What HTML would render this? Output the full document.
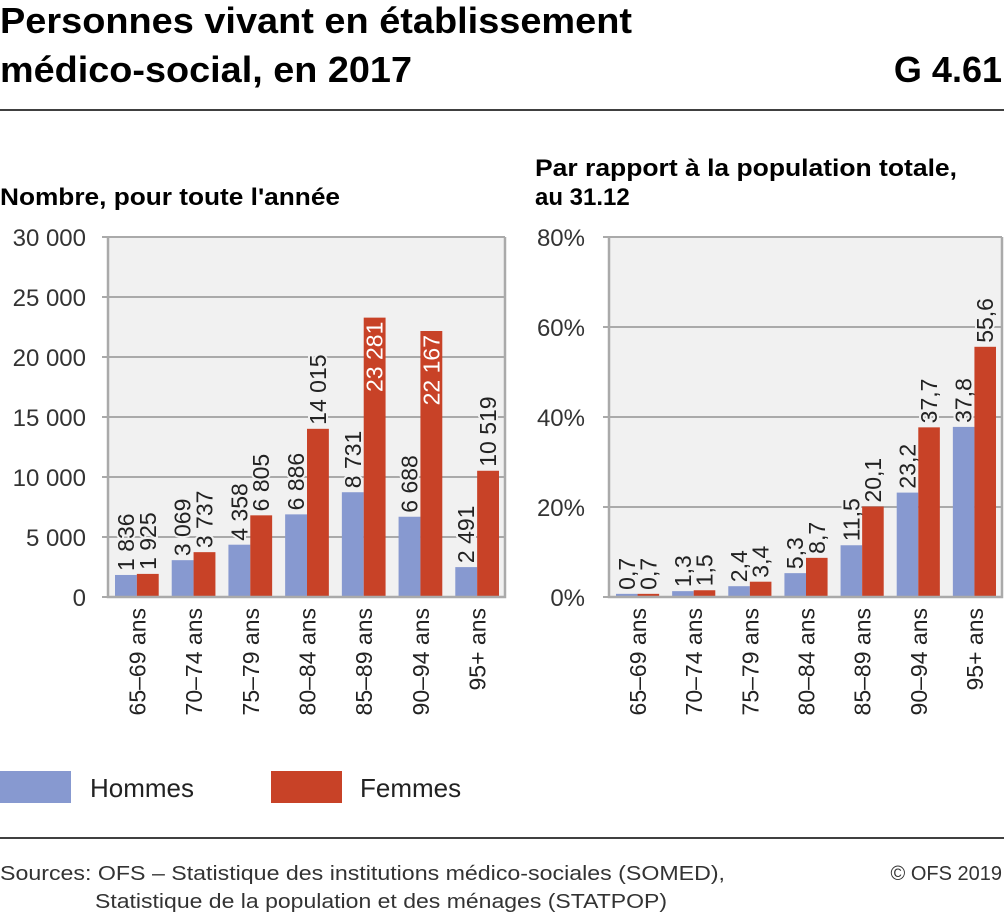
<!DOCTYPE html>
<html><head><meta charset="utf-8"><style>
body{margin:0;background:#fff;}
svg{display:block;font-family:"Liberation Sans",sans-serif;}
</style></head><body>
<svg id="c" width="1004" height="916" viewBox="0 0 1004 916">
<text x="0" y="33" font-size="36" fill="#000" font-weight="bold" textLength="632" lengthAdjust="spacingAndGlyphs">Personnes vivant en établissement</text>
<text x="0" y="82" font-size="36" fill="#000" font-weight="bold" textLength="412" lengthAdjust="spacingAndGlyphs">médico-social, en 2017</text>
<text x="1002" y="82" font-size="36" text-anchor="end" fill="#000" font-weight="bold">G 4.61</text>
<line x1="0" y1="110" x2="1004" y2="110" stroke="#000" stroke-width="1.5"/>
<text x="0" y="205" font-size="24" font-weight="bold" textLength="340" lengthAdjust="spacingAndGlyphs">Nombre, pour toute l'année</text>
<text x="535" y="176" font-size="24" font-weight="bold" textLength="422" lengthAdjust="spacingAndGlyphs">Par rapport à la population totale,</text>
<text x="535" y="205" font-size="24" font-weight="bold">au 31.12</text>
<g id="left"></g><g id="right"></g>
<rect x="0" y="771" width="71" height="32" fill="#8799d0"/>
<text x="90" y="797" font-size="26" fill="#222">Hommes</text>
<rect x="271" y="771" width="71" height="32" fill="#c84227"/>
<text x="360" y="797" font-size="26" fill="#222">Femmes</text>
<line x1="0" y1="838" x2="1004" y2="838" stroke="#000" stroke-width="1.5"/>
<text x="0" y="880" font-size="20" fill="#333" textLength="725" lengthAdjust="spacingAndGlyphs">Sources: OFS – Statistique des institutions médico-sociales (SOMED),</text>
<text x="95" y="908" font-size="20" fill="#333" textLength="572" lengthAdjust="spacingAndGlyphs">Statistique de la population et des ménages (STATPOP)</text>
<text x="1002" y="880" font-size="20" fill="#333" text-anchor="end">© OFS 2019</text>
</svg>
<script>
const categories=["65–69 ans","70–74 ans","75–79 ans","80–84 ans","85–89 ans","90–94 ans","95+ ans"];
const countHommes=[1836,3069,4358,6886,8731,6688,2491];
const countFemmes=[1925,3737,6805,14015,23281,22167,10519];
const pctHommes=[0.7,1.3,2.4,5.3,11.5,23.2,37.8];
const pctFemmes=[0.7,1.5,3.4,8.7,20.1,37.7,55.6];
const leftTicks=[0,5000,10000,15000,20000,25000,30000];
const rightTicks=[0,20,40,60,80];
const NS="http://www.w3.org/2000/svg";
function mk(p,t,a){const e=document.createElementNS(NS,t);for(const k in a)e.setAttribute(k,a[k]);p.appendChild(e);return e;}
function fmtN(v){return String(v).replace(/\B(?=(\d{3})+(?!\d))/g," ");}
function fmtP(v){return v.toFixed(1).replace(".",",");}
function panel(gid,x0,x1,maxV,ticks,tickFmt,h,f,valFmt,labelX){
 const g=document.getElementById(gid);
 const yT=237,yB=597;
 const y=v=>yB-(v/maxV)*(yB-yT);
 const step=(x1-x0)/categories.length;
 const bg=mk(g,"rect",{x:x0,y:yT,width:x1-x0,height:yB-yT,fill:"#f1f1f1"});
 
 
 ticks.forEach(t=>{
  const l=mk(g,"line",{x1:x0-6,x2:x1,y1:y(t),y2:y(t),stroke:"#aaa","stroke-width":2});
  
  
  const tx=mk(g,"text",{x:labelX,y:y(t)+9,"font-size":24,"text-anchor":"end",fill:"#333"});
  tx.textContent=tickFmt(t);
  
  
 });
 categories.forEach((c,i)=>{
  const cx=x0+i*step, bw=(step-13)/2;
  [[h[i],"#8799d0",cx+7],[f[i],"#c84227",cx+7+bw]].forEach(([v,col,bx],k)=>{
   const r=mk(g,"rect",{x:bx,y:y(v),width:bw,height:yB-y(v),fill:col});
   
   
   const txt=valFmt(v);
   const inside=v/maxV>0.7;
   const ly=inside?y(v)+4:y(v)-4;
   const tx=mk(g,"text",{transform:`translate(${bx+bw/2+8},${ly}) rotate(-90)`,"font-size":23,"text-anchor":inside?"end":"start",fill:inside?"#fff":"#222",stroke:inside?"none":"#f1f1f1","stroke-width":4,"paint-order":"stroke"});
   tx.textContent=txt;
   
   
  });
  const cl=mk(g,"text",{transform:`translate(${cx+step/2+9},608) rotate(-90)`,"font-size":23,"text-anchor":"end",fill:"#222"});
  cl.textContent=c;
  
  
 });
 const ax=mk(g,"path",{d:`M${x0},${yT}V${yB}H${x1}V${yT}`,fill:"none",stroke:"#aaa","stroke-width":2.5});
 
 
}
panel("left",108,505,30000,leftTicks,fmtN,countHommes,countFemmes,fmtN,86);
panel("right",609,1002,80,rightTicks,t=>t+"%",pctHommes,pctFemmes,fmtP,585);
</script>
</body></html>
